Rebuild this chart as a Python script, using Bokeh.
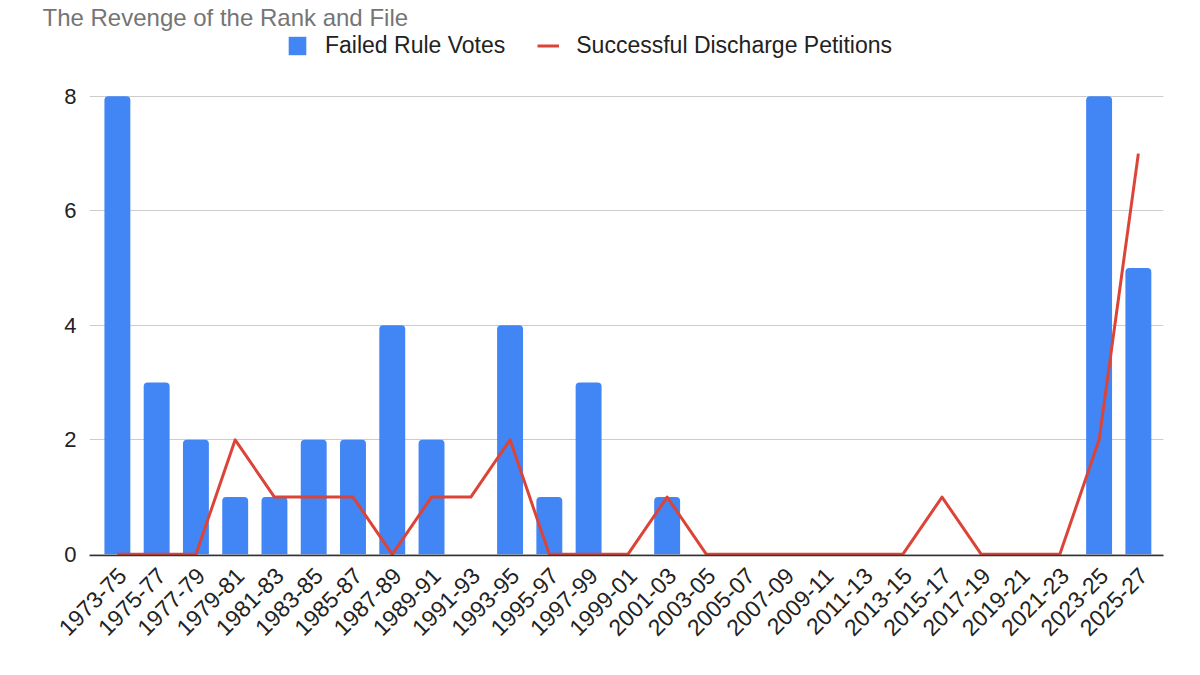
import math

from bokeh.embed import file_html
from bokeh.models import FixedTicker, Legend, LegendItem, Range1d
from bokeh.plotting import figure
from bokeh.resources import INLINE

# congressional terms (x categories)
periods = [
    "1973-75", "1975-77", "1977-79", "1979-81", "1981-83", "1983-85", "1985-87",
    "1987-89", "1989-91", "1991-93", "1993-95", "1995-97", "1997-99", "1999-01",
    "2001-03", "2003-05", "2005-07", "2007-09", "2009-11", "2011-13", "2013-15",
    "2015-17", "2017-19", "2019-21", "2021-23", "2023-25", "2025-27",
]
failed_rule_votes = [8, 3, 2, 1, 1, 2, 2, 4, 2, 0, 4, 1, 3, 0, 1,
                     0, 0, 0, 0, 0, 0, 0, 0, 0, 0, 8, 5]
discharge_petitions = [0, 0, 0, 2, 1, 1, 1, 0, 1, 1, 2, 0, 0, 0, 1,
                       0, 0, 0, 0, 0, 0, 1, 0, 0, 0, 2, 7]
y_ticks = [0, 2, 4, 6, 8]

title_text = "The Revenge of the Rank and File"
FONT = "Liberation Sans"
BLUE = "#4285F4"
RED = "#DB4437"
PAD_L, PAD_R = 0.21, 0.14  # extra room before first / after last category
LABEL_SHIFT = 0.12         # tick labels sit a little right of the bar centres

n = len(periods)
pos = list(range(n))  # category slots

# frame reaches up to the legend row; the top gridline (8) sits ~66px below it
p = figure(
    width=1184, height=659,
    x_range=Range1d(-0.5 - PAD_L, n - 0.5 + PAD_R),
    y_range=Range1d(-0.02, 9.15),
    output_backend="svg", toolbar_location=None, tools="",
    min_border_left=89, min_border_right=21, min_border_top=30, min_border_bottom=104,
)
p.outline_line_color = None
p.background_fill_color = "white"

p.title.text = title_text
p.title.text_font = FONT
p.title.text_font_size = "24px"
p.title.text_font_style = "normal"
p.title.text_color = "#757575"
p.title.align = "left"
p.title.offset = -47
p.title.standoff = 0

bars = p.vbar(x=pos, top=failed_rule_votes, bottom=0, width=0.66,
              fill_color=BLUE, line_color=None, border_radius=(4, 4, 0, 0))
line = p.line(x=pos, y=discharge_petitions, line_color=RED, line_width=3,
              line_join="round")

# grid / y axis
p.xgrid.grid_line_color = None
p.ygrid.grid_line_color = "#cccccc"
p.ygrid.grid_line_width = 1
p.yaxis.ticker = FixedTicker(ticks=y_ticks)
p.yaxis.axis_line_color = None
p.yaxis.major_tick_line_color = None
p.yaxis.minor_tick_line_color = None
p.yaxis.major_tick_out = 0
p.yaxis.major_label_standoff = 13
p.yaxis.major_label_text_font = FONT
p.yaxis.major_label_text_font_size = "22px"
p.yaxis.major_label_text_color = "#222222"

# x axis: one tick per term, labels nudged right of the bar centre
xticks = [i + LABEL_SHIFT for i in pos]
p.xaxis.ticker = FixedTicker(ticks=xticks)
p.xaxis.major_label_overrides = {t: lab for t, lab in zip(xticks, periods)}
p.xaxis.axis_line_color = "#333333"
p.xaxis.axis_line_width = 1.5
p.xaxis.major_tick_line_color = None
p.xaxis.minor_tick_line_color = None
p.xaxis.major_tick_out = 0
p.xaxis.major_label_standoff = 16
p.xaxis.major_label_orientation = math.pi / 4
p.xaxis.major_label_text_font = FONT
p.xaxis.major_label_text_font_size = "23px"
p.xaxis.major_label_text_color = "#222222"

legend = Legend(
    items=[LegendItem(label="Failed Rule Votes", renderers=[bars]),
           LegendItem(label="Successful Discharge Petitions", renderers=[line])],
    orientation="horizontal", location=(197, 496),
    glyph_width=22, glyph_height=23, label_standoff=17, spacing=32,
    padding=0, margin=0, border_line_color=None, background_fill_alpha=0,
    label_text_font=FONT, label_text_font_size="23px", label_text_color="#222222",
)
p.add_layout(legend)

open("out.html", "w").write(file_html(p, INLINE))
